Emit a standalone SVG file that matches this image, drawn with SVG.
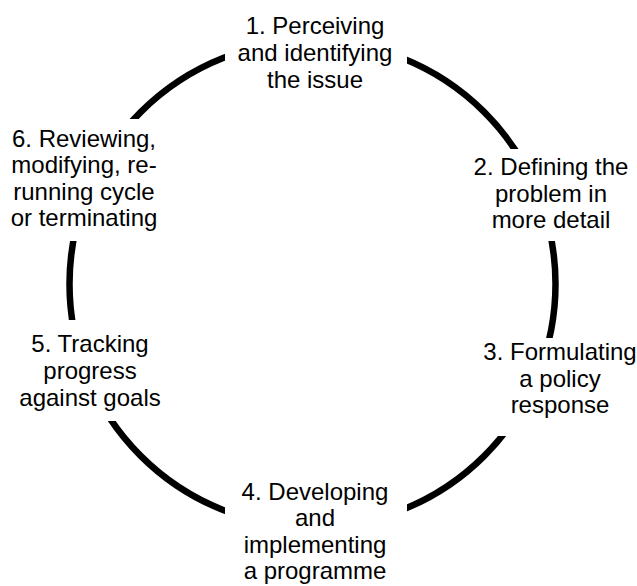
<svg xmlns="http://www.w3.org/2000/svg" width="637" height="586" viewBox="0 0 637 586">
<style>
.mask{fill:#ffffff;stroke:none}
.lbl{font-family:"Liberation Sans",Arial,sans-serif;font-size:24px;fill:#000000;text-anchor:middle}
.ring{fill:none;stroke:#000000;stroke-width:6.5}
</style>
<rect x="0" y="0" width="637" height="586" fill="#ffffff"/>
<g id="connectors">
<circle class="ring" cx="312.5" cy="284" r="243"/>
</g>
<g id="node1">
<rect class="mask" x="225" y="0" width="182" height="100"/>
<text class="lbl"><tspan x="315" y="34">1. Perceiving</tspan><tspan x="315" y="61">and identifying</tspan><tspan x="315" y="88">the issue</tspan></text>
</g>
<g id="node2">
<rect class="mask" x="470" y="149" width="167" height="92"/>
<text class="lbl"><tspan x="551" y="175">2. Defining the</tspan><tspan x="551" y="201.5">problem in</tspan><tspan x="551" y="228">more detail</tspan></text>
</g>
<g id="node3">
<rect class="mask" x="470" y="338" width="167" height="98"/>
<text class="lbl"><tspan x="560" y="360">3. Formulating</tspan><tspan x="560" y="386.5">a policy</tspan><tspan x="560" y="413">response</tspan></text>
</g>
<g id="node4">
<rect class="mask" x="225" y="470" width="182" height="116"/>
<text class="lbl"><tspan x="315" y="499.5">4. Developing</tspan><tspan x="315" y="526">and</tspan><tspan x="315" y="552.5">implementing</tspan><tspan x="315" y="579">a programme</tspan></text>
</g>
<g id="node5">
<rect class="mask" x="0" y="320" width="165" height="101"/>
<text class="lbl"><tspan x="90" y="352">5. Tracking</tspan><tspan x="90" y="379">progress</tspan><tspan x="90" y="406">against goals</tspan></text>
</g>
<g id="node6">
<rect class="mask" x="0" y="119" width="165" height="122"/>
<text class="lbl"><tspan x="84" y="147">6. Reviewing,</tspan><tspan x="84" y="173">modifying, re-</tspan><tspan x="84" y="199.5">running cycle</tspan><tspan x="84" y="226">or terminating</tspan></text>
</g>
</svg>
